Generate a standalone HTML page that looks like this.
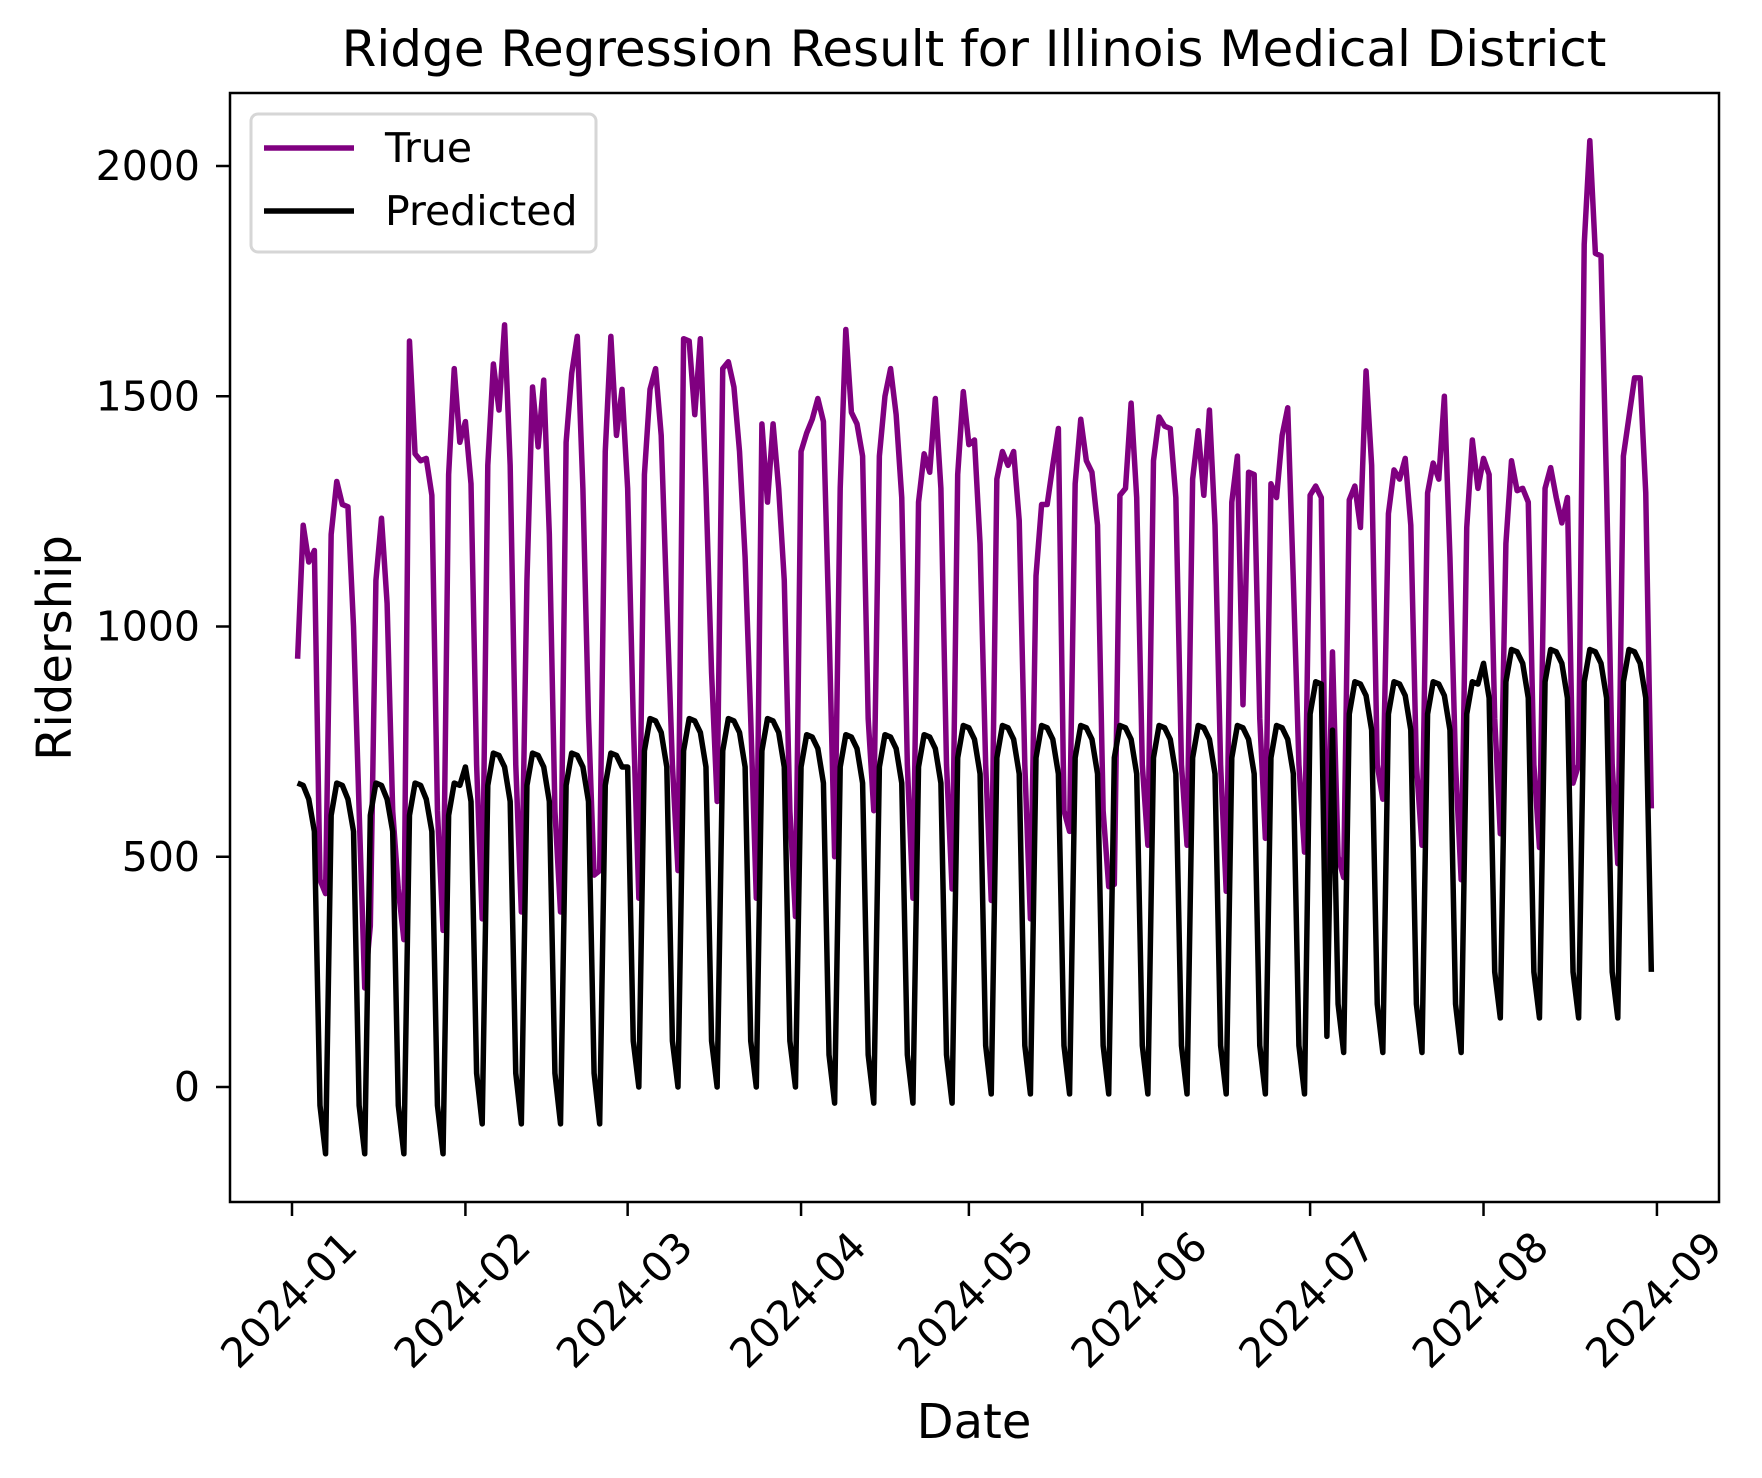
<!DOCTYPE html>
<html>
<head>
<meta charset="utf-8">
<style>
html,body{margin:0;padding:0;background:#fff;}
svg{display:block;font-family:"DejaVu Sans","Liberation Sans",sans-serif;}
</style>
</head>
<body>
<svg id="chart" width="1762" height="1478" viewBox="0 0 1762 1478" xmlns="http://www.w3.org/2000/svg">
<rect x="0" y="0" width="1762" height="1478" fill="#fff"/>
<text x="974" y="66" font-size="50" text-anchor="middle">Ridge Regression Result for Illinois Medical District</text>
<g id="plot"></g>
<text x="974" y="1438" font-size="48" text-anchor="middle">Date</text>
<text x="0" y="0" font-size="48" text-anchor="middle" transform="translate(71,648) rotate(-90)">Ridership</text>
<rect x="230" y="93" width="1489" height="1109" fill="none" stroke="#000" stroke-width="2.5"/>
<g>
<rect x="251" y="114" width="345" height="138" rx="7" fill="#fff" fill-opacity="0.8" stroke="#d6d6d6" stroke-width="3"/>
<line x1="264" y1="148" x2="354" y2="148" stroke="#800080" stroke-width="5.5"/>
<text x="385" y="162" font-size="41">True</text>
<line x1="264" y1="211" x2="354" y2="211" stroke="#000" stroke-width="5.5"/>
<text x="385" y="225" font-size="41">Predicted</text>
</g>
</svg>
<script>
// Data begins on 2024-01-02 (day index 1); one value per day
const startDay = 1;
const trueValues = [
930,1220,1140,1165,450,420,
1200,1315,1265,1260,1000,600,215,
350,1100,1235,1050,600,430,320,
1620,1375,1360,1365,1285,600,340,
1330,1560,1400,1445,1310,700,365,
1350,1570,1470,1655,1350,700,380,
1100,1520,1390,1535,1200,600,380,
1400,1550,1630,1300,800,460,470,
1380,1630,1415,1515,1300,800,410,
1330,1515,1560,1415,1050,700,470,
1625,1620,1460,1625,1300,900,620,
1560,1575,1520,1380,1150,800,410,
1440,1270,1440,1300,1100,600,370,
1380,1420,1450,1495,1445,1000,500,
1300,1645,1465,1440,1370,800,600,
1370,1500,1560,1460,1280,700,410,
1270,1375,1335,1495,1300,700,430,
1330,1510,1395,1405,1180,700,405,
1320,1380,1350,1380,1230,700,365,
1110,1265,1265,1350,1430,600,555,
1310,1450,1360,1335,1220,600,435,
440,1285,1300,1485,1280,700,525,
1360,1455,1435,1430,1280,700,525,
1320,1425,1285,1470,1220,700,425,
1270,1370,830,1335,1330,800,540,
1310,1280,1415,1475,1100,700,510,
1285,1305,1280,400,945,500,455,
1275,1305,1215,1555,1350,700,625,
1245,1340,1320,1365,1220,700,525,
1290,1355,1320,1500,1150,700,450,
1215,1405,1300,1365,1330,800,550,
1180,1360,1295,1300,1270,700,520,
1300,1345,1280,1225,1280,660,700,
1830,2055,1810,1805,1300,700,485,
1370,1455,1540,1540,1290,605
];
const predictedValues = [
660,655,625,555,-40,-145,
590,660,655,625,555,-40,-145,
590,660,655,625,555,-40,-145,
590,660,655,625,555,-40,-145,
590,660,655,695,620,30,-80,
655,725,720,695,620,30,-80,
655,725,720,695,620,30,-80,
655,725,720,695,620,30,-80,
655,725,720,695,695,100,0,
730,800,795,770,695,100,0,
730,800,795,770,695,100,0,
730,800,795,770,695,100,0,
730,800,795,770,695,100,0,
695,765,760,735,660,70,-35,
695,765,760,735,660,70,-35,
695,765,760,735,660,70,-35,
695,765,760,735,660,70,-35,
715,785,780,755,680,90,-15,
715,785,780,755,680,90,-15,
715,785,780,755,680,90,-15,
715,785,780,755,680,90,-15,
715,785,780,755,680,90,-15,
715,785,780,755,680,90,-15,
715,785,780,755,680,90,-15,
715,785,780,755,680,90,-15,
715,785,780,755,680,90,-15,
810,880,875,110,775,180,75,
810,880,875,850,775,180,75,
810,880,875,850,775,180,75,
810,880,875,850,775,180,75,
810,880,875,920,845,250,150,
880,950,945,920,845,250,150,
880,950,945,920,845,250,150,
880,950,945,920,845,250,150,
880,950,945,920,845,250
];
const yTicks = [0,500,1000,1500,2000];
const xTickLabels = ["2024-01","2024-02","2024-03","2024-04","2024-05","2024-06","2024-07","2024-08","2024-09"];
const xTickDays = [0,31,60,91,121,152,182,213,244];

function xScale(day){ return 292 + day*5.594; }
function yScale(v){ return 1087 - v*0.4605; }

const NS = "http://www.w3.org/2000/svg";
const plot = document.getElementById('plot');

yTicks.forEach(function(t){
  const y = yScale(t);
  const tk = document.createElementNS(NS,'line');
  tk.setAttribute('x1',216); tk.setAttribute('x2',230);
  tk.setAttribute('y1',y); tk.setAttribute('y2',y);
  tk.setAttribute('stroke','#000'); tk.setAttribute('stroke-width','2.5');
  
  
  plot.appendChild(tk);
  const lb = document.createElementNS(NS,'text');
  lb.setAttribute('x',200); lb.setAttribute('y',y+14);
  lb.setAttribute('font-size','41'); lb.setAttribute('text-anchor','end');
  lb.textContent = String(t);
  
  
  plot.appendChild(lb);
});

xTickLabels.forEach(function(lab,i){
  const x = xScale(xTickDays[i]);
  const tk = document.createElementNS(NS,'line');
  tk.setAttribute('x1',x); tk.setAttribute('x2',x);
  tk.setAttribute('y1',1202); tk.setAttribute('y2',1216);
  tk.setAttribute('stroke','#000'); tk.setAttribute('stroke-width','2.5');
  
  
  plot.appendChild(tk);
  const lb = document.createElementNS(NS,'text');
  lb.setAttribute('x',0); lb.setAttribute('y',0);
  lb.setAttribute('font-size','41'); lb.setAttribute('text-anchor','middle');
  lb.setAttribute('dominant-baseline','central');
  lb.setAttribute('transform','translate('+(x-3)+',1300) rotate(-45)');
  lb.textContent = lab;
  
  
  plot.appendChild(lb);
});

function drawLine(vals, color, name){
  let d = '';
  vals.forEach(function(v,i){
    d += (i===0?'M':'L') + xScale(startDay+i).toFixed(2) + ',' + yScale(v).toFixed(2);
  });
  const p = document.createElementNS(NS,'path');
  p.setAttribute('d',d);
  p.setAttribute('fill','none');
  p.setAttribute('stroke',color);
  p.setAttribute('stroke-width','5.5');
  p.setAttribute('stroke-linejoin','round');
  
  
  plot.appendChild(p);
}
drawLine(trueValues,'#800080','true-series-line');
drawLine(predictedValues,'#000000','predicted-series-line');
</script>
</body>
</html>
